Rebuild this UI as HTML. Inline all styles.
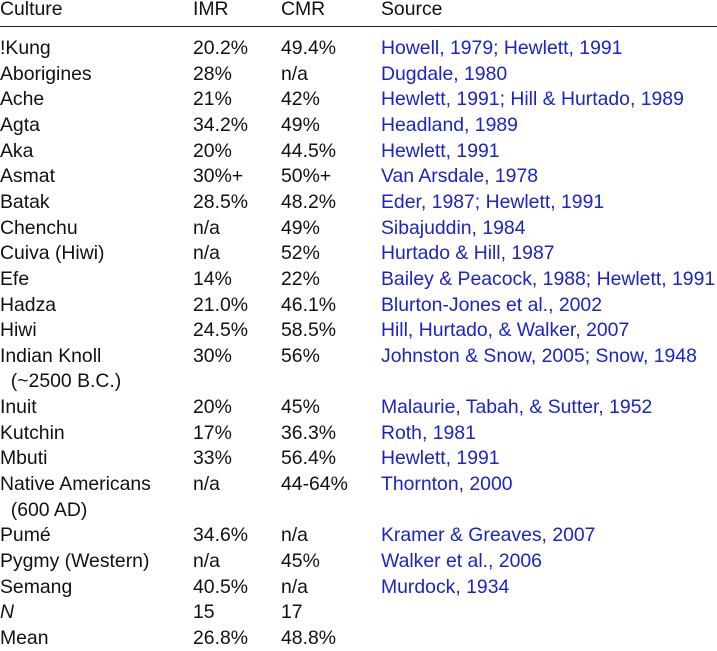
<!DOCTYPE html>
<html><head><meta charset="utf-8"><style>
body{margin:0;width:717px;height:649px;background:#fff;overflow:hidden;font-family:"Liberation Sans",sans-serif;font-size:19.4px;color:#111;}
.r{position:absolute;left:0;width:717px;height:26px;line-height:26px;white-space:nowrap}
.r span{position:absolute}
.c1{left:0}.c2{left:193px}.c3{left:281px}.c4{left:381px;color:#1a24c8}
.rule{position:absolute;left:0;width:717px;top:26px;height:1px;background:#222}
</style></head><body>
<div class="r" style="top:-4px"><span class="c1">Culture</span><span class="c2">IMR</span><span class="c3">CMR</span><span class="c4" style="color:#111">Source</span></div>
<div class="rule"></div>
<div id="rows"></div>
<script>
const rows=[
["!Kung","20.2%","49.4%","Howell, 1979; Hewlett, 1991"],
["Aborigines","28%","n/a","Dugdale, 1980"],
["Ache","21%","42%","Hewlett, 1991; Hill & Hurtado, 1989"],
["Agta","34.2%","49%","Headland, 1989"],
["Aka","20%","44.5%","Hewlett, 1991"],
["Asmat","30%+","50%+","Van Arsdale, 1978"],
["Batak","28.5%","48.2%","Eder, 1987; Hewlett, 1991"],
["Chenchu","n/a","49%","Sibajuddin, 1984"],
["Cuiva (Hiwi)","n/a","52%","Hurtado & Hill, 1987"],
["Efe","14%","22%","Bailey & Peacock, 1988; Hewlett, 1991"],
["Hadza","21.0%","46.1%","Blurton-Jones et al., 2002"],
["Hiwi","24.5%","58.5%","Hill, Hurtado, & Walker, 2007"],
["Indian Knoll","30%","56%","Johnston & Snow, 2005; Snow, 1948"],
["\u00a0\u00a0(~2500 B.C.)","","",""],
["Inuit","20%","45%","Malaurie, Tabah, & Sutter, 1952"],
["Kutchin","17%","36.3%","Roth, 1981"],
["Mbuti","33%","56.4%","Hewlett, 1991"],
["Native Americans","n/a","44-64%","Thornton, 2000"],
["\u00a0\u00a0(600 AD)","","",""],
["Pumé","34.6%","n/a","Kramer & Greaves, 2007"],
["Pygmy (Western)","n/a","45%","Walker et al., 2006"],
["Semang","40.5%","n/a","Murdock, 1934"],
["N","15","17",""],
["Mean","26.8%","48.8%",""]];
const host=document.getElementById('rows');
rows.forEach((r,i)=>{
const d=document.createElement('div');d.className='r';


d.style.top=(35+i*25.65)+'px';
r.forEach((t,j)=>{const s=document.createElement('span');s.className='c'+(j+1);s.textContent=t;
if(j==0&&t=='N')s.style.fontStyle='italic';


d.appendChild(s);});
host.appendChild(d);});
</script>
</body></html>
